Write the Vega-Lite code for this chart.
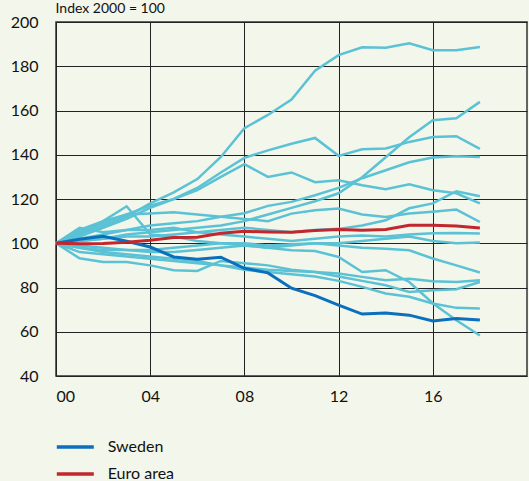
{
  "$schema": "https://vega.github.io/schema/vega-lite/v6.json",
  "width": 471,
  "height": 354,
  "autosize": {"type": "none"},
  "padding": {"left": 56, "top": 22, "right": 2, "bottom": 105},
  "background": "#f3f6ea",
  "config": {
    "font": "Lato",
    "view": {"stroke": "#333333", "strokeWidth": 1.5, "fill": "#f3f6ea"},
    "axis": {"labelColor": "#111111", "labelFontSize": 16, "gridColor": "#222222", "gridOpacity": 1, "gridWidth": 1, "ticks": false, "domain": false}
  },
  "data": {
    "values": [
      {"c":"A","t":0,"v":100},{"c":"A","t":1,"v":104},{"c":"A","t":2,"v":108},{"c":"A","t":3,"v":112},{"c":"A","t":4,"v":118},{"c":"A","t":5,"v":123},{"c":"A","t":6,"v":129},{"c":"A","t":7,"v":139},{"c":"A","t":8,"v":152},{"c":"A","t":9,"v":158},{"c":"A","t":10,"v":165},{"c":"A","t":11,"v":178},{"c":"A","t":12,"v":185},{"c":"A","t":13,"v":188.6},{"c":"A","t":14,"v":188.4},{"c":"A","t":15,"v":190.4},{"c":"A","t":16,"v":187.2},{"c":"A","t":17,"v":187.2},{"c":"A","t":18,"v":188.7},
      {"c":"B","t":0,"v":100},{"c":"B","t":1,"v":101},{"c":"B","t":2,"v":102},{"c":"B","t":3,"v":104},{"c":"B","t":4,"v":105},{"c":"B","t":5,"v":106},{"c":"B","t":6,"v":107},{"c":"B","t":7,"v":108},{"c":"B","t":8,"v":110},{"c":"B","t":9,"v":113},{"c":"B","t":10,"v":116},{"c":"B","t":11,"v":119},{"c":"B","t":12,"v":122.6},{"c":"B","t":13,"v":129.8},{"c":"B","t":14,"v":138.9},{"c":"B","t":15,"v":147.9},{"c":"B","t":16,"v":155.6},{"c":"B","t":17,"v":156.5},{"c":"B","t":18,"v":163.9},
      {"c":"C","t":0,"v":100},{"c":"C","t":1,"v":103},{"c":"C","t":2,"v":107},{"c":"C","t":3,"v":111},{"c":"C","t":4,"v":116},{"c":"C","t":5,"v":120},{"c":"C","t":6,"v":125},{"c":"C","t":7,"v":132},{"c":"C","t":8,"v":138.6},{"c":"C","t":9,"v":142},{"c":"C","t":10,"v":145},{"c":"C","t":11,"v":147.6},{"c":"C","t":12,"v":139.5},{"c":"C","t":13,"v":142.5},{"c":"C","t":14,"v":142.8},{"c":"C","t":15,"v":145.8},{"c":"C","t":16,"v":148},{"c":"C","t":17,"v":148.4},{"c":"C","t":18,"v":142.7},
      {"c":"D","t":0,"v":100},{"c":"D","t":1,"v":102},{"c":"D","t":2,"v":104},{"c":"D","t":3,"v":106},{"c":"D","t":4,"v":108},{"c":"D","t":5,"v":109},{"c":"D","t":6,"v":110},{"c":"D","t":7,"v":112},{"c":"D","t":8,"v":113.6},{"c":"D","t":9,"v":116.9},{"c":"D","t":10,"v":118.7},{"c":"D","t":11,"v":121.7},{"c":"D","t":12,"v":125},{"c":"D","t":13,"v":129.4},{"c":"D","t":14,"v":133},{"c":"D","t":15,"v":136.6},{"c":"D","t":16,"v":138.8},{"c":"D","t":17,"v":139.3},{"c":"D","t":18,"v":139},
      {"c":"E","t":0,"v":100},{"c":"E","t":1,"v":101},{"c":"E","t":2,"v":102},{"c":"E","t":3,"v":103},{"c":"E","t":4,"v":103},{"c":"E","t":5,"v":104},{"c":"E","t":6,"v":105},{"c":"E","t":7,"v":106},{"c":"E","t":8,"v":107},{"c":"E","t":9,"v":106},{"c":"E","t":10,"v":105},{"c":"E","t":11,"v":106},{"c":"E","t":12,"v":106.5},{"c":"E","t":13,"v":108},{"c":"E","t":14,"v":110.4},{"c":"E","t":15,"v":115.8},{"c":"E","t":16,"v":118},{"c":"E","t":17,"v":123.5},{"c":"E","t":18,"v":121.2},
      {"c":"F","t":0,"v":100},{"c":"F","t":1,"v":105},{"c":"F","t":2,"v":109},{"c":"F","t":3,"v":113},{"c":"F","t":4,"v":117},{"c":"F","t":5,"v":120},{"c":"F","t":6,"v":124},{"c":"F","t":7,"v":130},{"c":"F","t":8,"v":135.7},{"c":"F","t":9,"v":130},{"c":"F","t":10,"v":132},{"c":"F","t":11,"v":127.6},{"c":"F","t":12,"v":128.5},{"c":"F","t":13,"v":126.2},{"c":"F","t":14,"v":124.4},{"c":"F","t":15,"v":126.7},{"c":"F","t":16,"v":124},{"c":"F","t":17,"v":122.6},{"c":"F","t":18,"v":118},
      {"c":"G","t":0,"v":100},{"c":"G","t":1,"v":106},{"c":"G","t":2,"v":110},{"c":"G","t":3,"v":113},{"c":"G","t":4,"v":113.5},{"c":"G","t":5,"v":114},{"c":"G","t":6,"v":113},{"c":"G","t":7,"v":112},{"c":"G","t":8,"v":111},{"c":"G","t":9,"v":110},{"c":"G","t":10,"v":113.4},{"c":"G","t":11,"v":114.9},{"c":"G","t":12,"v":115.7},{"c":"G","t":13,"v":113},{"c":"G","t":14,"v":111.9},{"c":"G","t":15,"v":113.4},{"c":"G","t":16,"v":114.2},{"c":"G","t":17,"v":115.2},{"c":"G","t":18,"v":109.6},
      {"c":"H","t":0,"v":100},{"c":"H","t":1,"v":107},{"c":"H","t":2,"v":105},{"c":"H","t":3,"v":106},{"c":"H","t":4,"v":106},{"c":"H","t":5,"v":107},{"c":"H","t":6,"v":105},{"c":"H","t":7,"v":104},{"c":"H","t":8,"v":103},{"c":"H","t":9,"v":102},{"c":"H","t":10,"v":101},{"c":"H","t":11,"v":102},{"c":"H","t":12,"v":103},{"c":"H","t":13,"v":103.5},{"c":"H","t":14,"v":103},{"c":"H","t":15,"v":104},{"c":"H","t":16,"v":104.5},{"c":"H","t":17,"v":104.6},{"c":"H","t":18,"v":104.4},
      {"c":"I","t":0,"v":100},{"c":"I","t":1,"v":104},{"c":"I","t":2,"v":110},{"c":"I","t":3,"v":116.7},{"c":"I","t":4,"v":104},{"c":"I","t":5,"v":103},{"c":"I","t":6,"v":101},{"c":"I","t":7,"v":100},{"c":"I","t":8,"v":99},{"c":"I","t":9,"v":98},{"c":"I","t":10,"v":99},{"c":"I","t":11,"v":100},{"c":"I","t":12,"v":100},{"c":"I","t":13,"v":101},{"c":"I","t":14,"v":102},{"c":"I","t":15,"v":103},{"c":"I","t":16,"v":101},{"c":"I","t":17,"v":100},{"c":"I","t":18,"v":100.3},
      {"c":"J","t":0,"v":100},{"c":"J","t":1,"v":98},{"c":"J","t":2,"v":97},{"c":"J","t":3,"v":97},{"c":"J","t":4,"v":97},{"c":"J","t":5,"v":98},{"c":"J","t":6,"v":99},{"c":"J","t":7,"v":100},{"c":"J","t":8,"v":100},{"c":"J","t":9,"v":99},{"c":"J","t":10,"v":99.5},{"c":"J","t":11,"v":100},{"c":"J","t":12,"v":99},{"c":"J","t":13,"v":98},{"c":"J","t":14,"v":97.5},{"c":"J","t":15,"v":96.8},{"c":"J","t":16,"v":93.1},{"c":"J","t":17,"v":90},{"c":"J","t":18,"v":86.8},
      {"c":"K","t":0,"v":100},{"c":"K","t":1,"v":96},{"c":"K","t":2,"v":95},{"c":"K","t":3,"v":94},{"c":"K","t":4,"v":93},{"c":"K","t":5,"v":92},{"c":"K","t":6,"v":91},{"c":"K","t":7,"v":90},{"c":"K","t":8,"v":89},{"c":"K","t":9,"v":88},{"c":"K","t":10,"v":87.5},{"c":"K","t":11,"v":87},{"c":"K","t":12,"v":86.3},{"c":"K","t":13,"v":84.8},{"c":"K","t":14,"v":83.3},{"c":"K","t":15,"v":84},{"c":"K","t":16,"v":82.8},{"c":"K","t":17,"v":82.5},{"c":"K","t":18,"v":83.3},
      {"c":"L","t":0,"v":100},{"c":"L","t":1,"v":93.2},{"c":"L","t":2,"v":91.5},{"c":"L","t":3,"v":91.5},{"c":"L","t":4,"v":90},{"c":"L","t":5,"v":87.8},{"c":"L","t":6,"v":87.5},{"c":"L","t":7,"v":92},{"c":"L","t":8,"v":91},{"c":"L","t":9,"v":90},{"c":"L","t":10,"v":88},{"c":"L","t":11,"v":87},{"c":"L","t":12,"v":85},{"c":"L","t":13,"v":83},{"c":"L","t":14,"v":81},{"c":"L","t":15,"v":78},{"c":"L","t":16,"v":78.8},{"c":"L","t":17,"v":79.2},{"c":"L","t":18,"v":82.5},
      {"c":"M","t":0,"v":100},{"c":"M","t":1,"v":98},{"c":"M","t":2,"v":96},{"c":"M","t":3,"v":95},{"c":"M","t":4,"v":94},{"c":"M","t":5,"v":93},{"c":"M","t":6,"v":92},{"c":"M","t":7,"v":90},{"c":"M","t":8,"v":88},{"c":"M","t":9,"v":87},{"c":"M","t":10,"v":86},{"c":"M","t":11,"v":85},{"c":"M","t":12,"v":83},{"c":"M","t":13,"v":80.3},{"c":"M","t":14,"v":77.3},{"c":"M","t":15,"v":75.8},{"c":"M","t":16,"v":72.8},{"c":"M","t":17,"v":70.8},{"c":"M","t":18,"v":70.5},
      {"c":"N","t":0,"v":100},{"c":"N","t":1,"v":99},{"c":"N","t":2,"v":98},{"c":"N","t":3,"v":97},{"c":"N","t":4,"v":96},{"c":"N","t":5,"v":96},{"c":"N","t":6,"v":97},{"c":"N","t":7,"v":98},{"c":"N","t":8,"v":99},{"c":"N","t":9,"v":98},{"c":"N","t":10,"v":96.8},{"c":"N","t":11,"v":96.5},{"c":"N","t":12,"v":93.8},{"c":"N","t":13,"v":87},{"c":"N","t":14,"v":87.8},{"c":"N","t":15,"v":82.5},{"c":"N","t":16,"v":72.9},{"c":"N","t":17,"v":65.2},{"c":"N","t":18,"v":58.3},
      {"c":"Sweden","t":0,"v":100},{"c":"Sweden","t":1,"v":101.8},{"c":"Sweden","t":2,"v":103.2},{"c":"Sweden","t":3,"v":100.9},{"c":"Sweden","t":4,"v":98.3},{"c":"Sweden","t":5,"v":93.8},{"c":"Sweden","t":6,"v":92.8},{"c":"Sweden","t":7,"v":93.7},{"c":"Sweden","t":8,"v":88.7},{"c":"Sweden","t":9,"v":86.6},{"c":"Sweden","t":10,"v":79.7},{"c":"Sweden","t":11,"v":76.3},{"c":"Sweden","t":12,"v":72},{"c":"Sweden","t":13,"v":68},{"c":"Sweden","t":14,"v":68.5},{"c":"Sweden","t":15,"v":67.5},{"c":"Sweden","t":16,"v":64.9},{"c":"Sweden","t":17,"v":66},{"c":"Sweden","t":18,"v":65.3},
      {"c":"Euro area","t":0,"v":100},{"c":"Euro area","t":1,"v":99.8},{"c":"Euro area","t":2,"v":99.9},{"c":"Euro area","t":3,"v":100.5},{"c":"Euro area","t":4,"v":101.4},{"c":"Euro area","t":5,"v":102.6},{"c":"Euro area","t":6,"v":102.7},{"c":"Euro area","t":7,"v":104.5},{"c":"Euro area","t":8,"v":105.4},{"c":"Euro area","t":9,"v":105.1},{"c":"Euro area","t":10,"v":105},{"c":"Euro area","t":11,"v":105.8},{"c":"Euro area","t":12,"v":106.2},{"c":"Euro area","t":13,"v":105.9},{"c":"Euro area","t":14,"v":106.2},{"c":"Euro area","t":15,"v":108.1},{"c":"Euro area","t":16,"v":108.1},{"c":"Euro area","t":17,"v":107.8},{"c":"Euro area","t":18,"v":106.9}
    ]
  },
  "layer": [
    {
      "transform": [{"filter": "datum.c != 'Sweden' && datum.c != 'Euro area'"}],
      "mark": {"type": "line", "color": "#5bc2d6", "strokeWidth": 2.5},
      "encoding": {
        "x": {"field": "t", "type": "quantitative", "scale": {"domain": [0, 20], "nice": false},
          "axis": {"values": [0, 4, 8, 12, 16], "labelExpr": "datum.value < 10 ? '0' + datum.value : '' + datum.value", "title": null, "labelPadding": 12, "grid": true}},
        "y": {"field": "v", "type": "quantitative", "scale": {"domain": [40, 200], "nice": false, "zero": false},
          "axis": {"values": [40, 60, 80, 100, 120, 140, 160, 180, 200], "title": "Index 2000 = 100", "titleAngle": 0, "titleAlign": "left", "titleBaseline": "alphabetic", "titleX": -1, "titleY": -10, "titleFontSize": 14, "titleFontWeight": "normal", "titleColor": "#111111", "labelPadding": 18, "grid": true}},
        "detail": {"field": "c"}
      }
    },
    {
      "transform": [{"filter": "datum.c == 'Sweden' || datum.c == 'Euro area'"}],
      "mark": {"type": "line", "strokeWidth": 3},
      "encoding": {
        "x": {"field": "t", "type": "quantitative"},
        "y": {"field": "v", "type": "quantitative"},
        "color": {"field": "c", "type": "nominal",
          "scale": {"domain": ["Sweden", "Euro area"], "range": ["#0a6fbd", "#c1272d"]},
          "legend": {"orient": "none", "legendX": 11.3, "legendY": 417, "title": null, "direction": "vertical",
            "symbolType": "M-3,0H3", "symbolSize": 152, "symbolStrokeWidth": 3.5, "symbolFillColor": "transparent",
            "labelFontSize": 16, "labelColor": "#111111", "labelOffset": 24.4, "rowPadding": 11, "padding": 0}}
      }
    }
  ]
}
